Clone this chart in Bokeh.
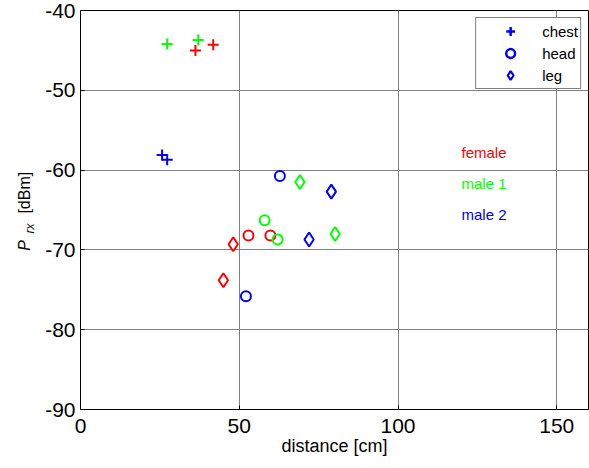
import math
from bokeh.plotting import figure
from bokeh.layouts import row
from bokeh.models import Range1d, Label, Legend, LegendItem, FixedTicker
from bokeh.core.properties import value
from bokeh.embed import file_html
from bokeh.resources import INLINE

# ---- data ----
chest_x = [27.3, 37.1, 36.2, 41.8, 25.7, 27.3]
chest_y = [-44.2, -43.7, -45.0, -44.3, -58.1, -58.7]
chest_c = ["#00FF00", "#00FF00", "#FF0000", "#FF0000", "#0000FF", "#0000FF"]

head_x = [62.8, 58.0, 52.9, 59.8, 62.1, 52.1]
head_y = [-60.75, -66.3, -68.2, -68.2, -68.7, -75.8]
head_c = ["#0000FF", "#00FF00", "#FF0000", "#FF0000", "#00FF00", "#0000FF"]

leg_x = [69.1, 79.0, 72.0, 80.2, 48.1, 45.0]
leg_y = [-61.5, -62.7, -68.7, -68.0, -69.3, -73.8]
leg_c = ["#00FF00", "#0000FF", "#0000FF", "#00FF00", "#FF0000", "#FF0000"]

group_names = ["female", "male 1", "male 2"]
group_colors = ["#FF0000", "#00FF00", "#0000FF"]
group_label_x = 120
group_label_y = [-57.8, -61.7, -65.6]

x_ticks = [0, 50, 100, 150]
y_ticks = [-90, -80, -70, -60, -50, -40]

# y-axis title pieces: P (italic), rx (italic subscript), [dBm]
ylab_text = ["P", "rx", "[dBm]"]
ylab_style = ["italic", "italic", "normal"]
ylab_size = ["16px", "12px", "16px"]
ylab_x = [24, 29.5, 24]
ylab_y = [-70.1, -67.95, -65.45]

FONT = "Liberation Sans"
H = 468
TOP, BOTTOM = 10, 59

yr = Range1d(-90, -40)

# narrow figure holding the rotated y-axis title
lab = figure(width=40, height=H, output_backend="svg", toolbar_location=None,
             x_range=Range1d(0, 40), y_range=yr,
             min_border_left=0, min_border_right=0,
             min_border_top=TOP, min_border_bottom=BOTTOM)
lab.axis.visible = False
lab.grid.visible = False
lab.outline_line_color = None
lab.background_fill_color = "white"
lab.border_fill_color = "white"
for t, st, sz, xx, yy in zip(ylab_text, ylab_style, ylab_size, ylab_x, ylab_y):
    lab.text(x=[xx], y=[yy], text=[t], angle=math.pi / 2, text_font=value(FONT),
             text_font_size=sz, text_font_style=st, text_color="black",
             text_align="left", text_baseline="alphabetic")

p = figure(width=549, height=H, output_backend="svg", toolbar_location=None,
           x_range=Range1d(0, 160), y_range=yr,
           min_border_left=40, min_border_right=1,
           min_border_top=TOP, min_border_bottom=BOTTOM)
p.background_fill_color = "white"
p.border_fill_color = "white"
p.outline_line_color = "black"
p.outline_line_width = 1

for ax in (p.xaxis[0], p.yaxis[0]):
    ax.major_label_text_font = FONT
    ax.major_label_text_font_size = "21px"
    ax.major_label_text_color = "black"
    ax.axis_line_color = "black"
    ax.major_tick_in = 4
    ax.major_tick_out = 0
    ax.minor_tick_in = 0
    ax.minor_tick_out = 0
    ax.major_tick_line_color = "black"

p.xaxis.major_label_standoff = 9
p.yaxis.major_label_standoff = 5
p.xaxis.ticker = FixedTicker(ticks=x_ticks)
p.yaxis.ticker = FixedTicker(ticks=y_ticks)
p.xaxis.major_label_overrides = {t: str(t) for t in x_ticks}
p.yaxis.major_label_overrides = {t: str(t) for t in y_ticks}
p.xaxis.axis_label = "distance [cm]"
p.xaxis.axis_label_text_font = FONT
p.xaxis.axis_label_text_font_size = "18px"
p.xaxis.axis_label_text_font_style = "normal"
p.xaxis.axis_label_text_color = "black"
p.xaxis.axis_label_standoff = 0

p.xgrid.ticker = FixedTicker(ticks=x_ticks)
p.ygrid.ticker = FixedTicker(ticks=y_ticks)
for g in (p.xgrid[0], p.ygrid[0]):
    g.grid_line_color = "#808080"
    g.grid_line_width = 1

p.scatter(chest_x, chest_y, marker="cross", size=11, line_color=chest_c, line_width=2)
p.scatter(head_x, head_y, marker="circle", size=10, fill_color=None,
          line_color=head_c, line_width=2)
p.scatter(leg_x, leg_y, marker="diamond", size=14, fill_color=None,
          line_color=leg_c, line_width=2)

# legend proxies (blue), drawn outside the visible range
l_chest = p.scatter([-100], [-100], marker="cross", size=12, line_color="#0000FF", line_width=2.5)
l_head = p.scatter([-100], [-100], marker="circle", size=10, fill_color=None,
                   line_color="#0000FF", line_width=2.5)
l_leg = p.scatter([-100], [-100], marker="diamond", size=15, fill_color=None,
                  line_color="#0000FF", line_width=2.2)

legend = Legend(items=[LegendItem(label="chest", renderers=[l_chest]),
                       LegendItem(label="head", renderers=[l_head]),
                       LegendItem(label="leg", renderers=[l_leg])],
                location="top_right")
legend.margin = 7
legend.padding = 2
legend.spacing = 0
legend.glyph_width = 64
legend.glyph_height = 22
legend.label_height = 22
legend.label_standoff = 0
legend.label_text_font = FONT
legend.label_text_font_size = "15px"
legend.label_text_color = "black"
legend.label_text_baseline = "middle"
legend.border_line_color = "black"
legend.border_line_width = 1
legend.background_fill_color = "white"
legend.background_fill_alpha = 1
p.add_layout(legend, "center")

for name, col, yy in zip(group_names, group_colors, group_label_y):
    p.add_layout(Label(x=group_label_x, y=yy, text=name, text_color=col,
                       text_font=FONT, text_font_size="15px", text_baseline="middle",
                       text_align="left"))

layout = row(lab, p, spacing=0)
open("out.html", "w").write(file_html(layout, INLINE))
